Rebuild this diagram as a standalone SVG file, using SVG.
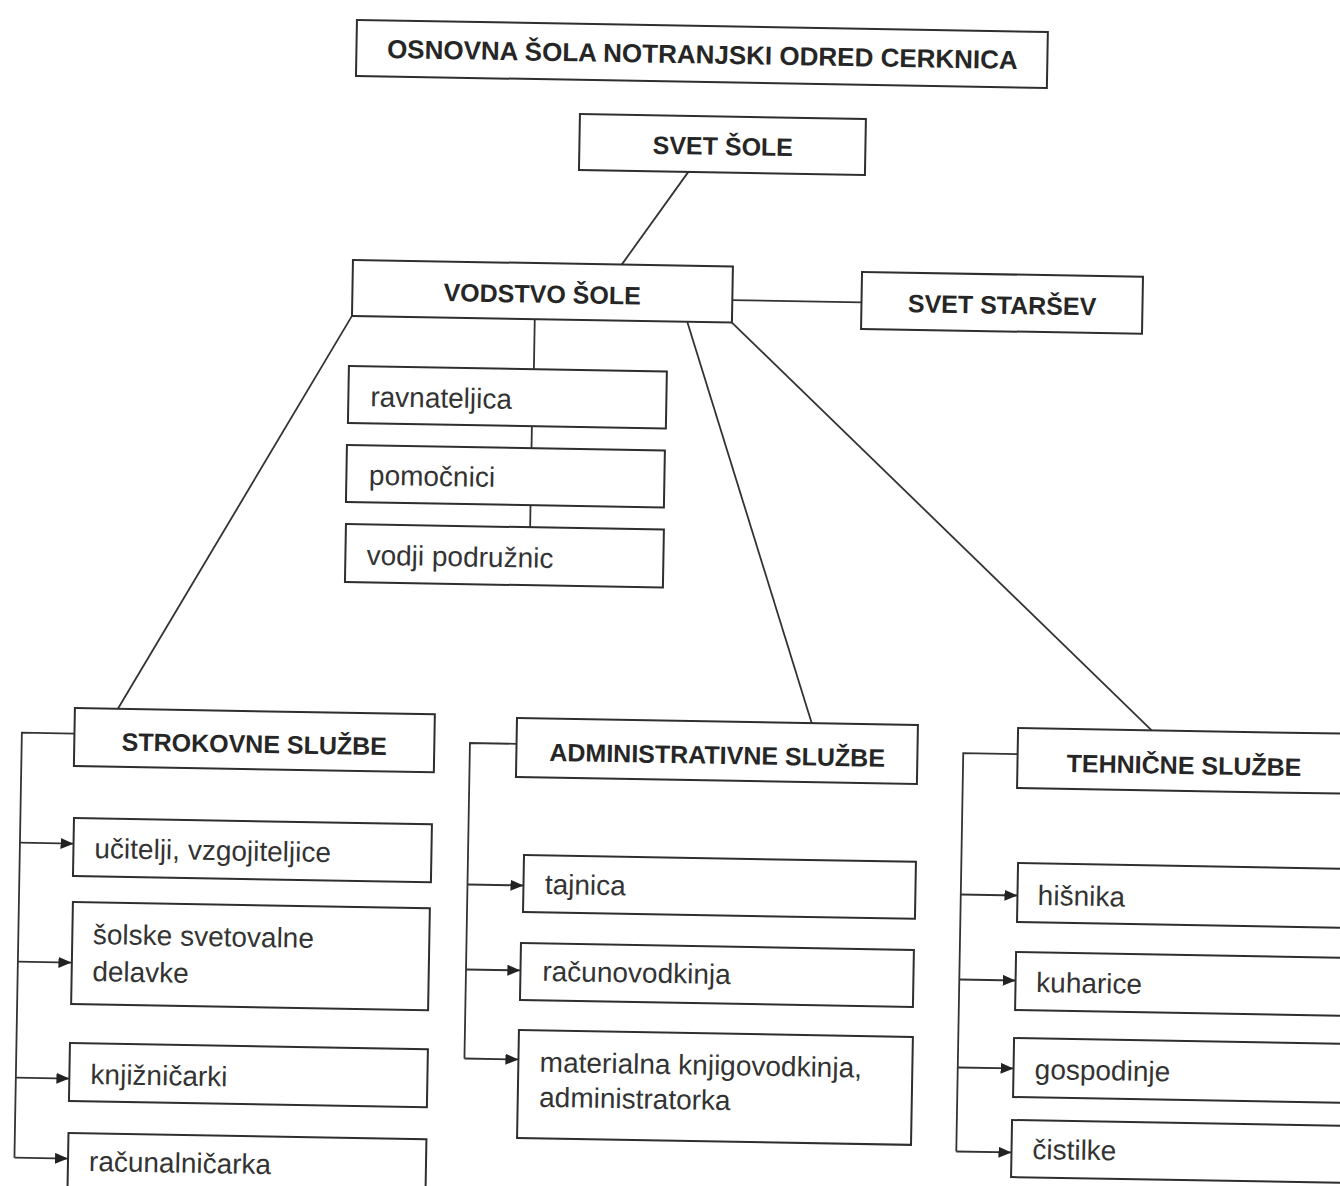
<svg xmlns="http://www.w3.org/2000/svg" width="1340" height="1186" viewBox="0 0 1340 1186">
<style>
.box{fill:#fff;stroke:#2e2e2e;stroke-width:2}
.ln{fill:none;stroke:#333;stroke-width:1.8}
.hd{font-family:"Liberation Sans",Arial,sans-serif;font-weight:bold;font-size:25px;fill:#262626;text-anchor:middle}
.ti{font-family:"Liberation Sans",Arial,sans-serif;font-weight:bold;font-size:26px;fill:#262626;text-anchor:middle}
.lb{font-family:"Liberation Sans",Arial,sans-serif;font-size:28px;fill:#333}
</style>
<defs>
<marker id="arr" markerUnits="userSpaceOnUse" markerWidth="13" markerHeight="11" refX="13" refY="5.5" orient="auto">
<path d="M0,0 L13,5.5 L0,11 z" fill="#222"/>
</marker>
</defs>
<rect width="1340" height="1186" fill="#fff"/>
<g transform="rotate(1 670 593)">
<g id="connectors">
<line class="ln" x1="681" y1="171.6" x2="616" y2="265.5"/>
<line class="ln" x1="727.2" y1="299" x2="856.4" y2="299"/>
<line class="ln" x1="530" y1="321.5" x2="530" y2="371.6"/>
<line class="ln" x1="529" y1="428.6" x2="529" y2="450.6"/>
<line class="ln" x1="529" y1="507.6" x2="529" y2="529.7"/>
<line class="ln" x1="347.2" y1="321.5" x2="120" y2="718.4"/>
<line class="ln" x1="682.5" y1="321.5" x2="814" y2="720.7"/>
<line class="ln" x1="727.2" y1="321.5" x2="1154" y2="721.9"/>
<path class="ln" d="M77,744 H24.4 V1169"/>
<path class="ln" d="M24.4,854 H78" marker-end="url(#arr)"/>
<path class="ln" d="M24.4,973 H78" marker-end="url(#arr)"/>
<path class="ln" d="M24.4,1089 H78" marker-end="url(#arr)"/>
<path class="ln" d="M24.4,1169 H78" marker-end="url(#arr)"/>
<path class="ln" d="M519,746.5 H472.6 V1062"/>
<path class="ln" d="M472.6,888 H528.6" marker-end="url(#arr)"/>
<path class="ln" d="M472.6,973 H527" marker-end="url(#arr)"/>
<path class="ln" d="M472.6,1062 H526.6" marker-end="url(#arr)"/>
<path class="ln" d="M1020.4,748 H966 V1146.4"/>
<path class="ln" d="M966,889.4 H1022.7" marker-end="url(#arr)"/>
<path class="ln" d="M966,974.4 H1022.3" marker-end="url(#arr)"/>
<path class="ln" d="M966,1062.4 H1021.8" marker-end="url(#arr)"/>
<path class="ln" d="M966,1146.4 H1021.2" marker-end="url(#arr)"/>
</g>
<g id="title"><rect class="box" x="347" y="25.5" width="691" height="56"/><text class="ti" x="693" y="63">OSNOVNA ŠOLA NOTRANJSKI ODRED CERKNICA</text></g>
<g id="svet-sole"><rect class="box" x="571.6" y="115.6" width="286" height="56"/><text class="hd" x="715" y="154">SVET ŠOLE</text></g>
<g id="vodstvo-sole"><rect class="box" x="347.2" y="265.5" width="380" height="56"/><text class="hd" x="537" y="305">VODSTVO ŠOLE</text></g>
<g id="svet-starsev"><rect class="box" x="856.4" y="268.6" width="281" height="57"/><text class="hd" x="997" y="308">SVET STARŠEV</text></g>
<g id="ravnateljica"><rect class="box" x="345" y="371.6" width="318" height="57"/><text class="lb" x="367" y="411.5">ravnateljica</text></g>
<g id="pomocnici"><rect class="box" x="344.4" y="450.6" width="318" height="57"/><text class="lb" x="367" y="490">pomočnici</text></g>
<g id="vodji-podruznic"><rect class="box" x="344.8" y="529.7" width="318" height="58"/><text class="lb" x="366" y="570">vodji podružnic</text></g>
<g id="strokovne-sluzbe"><rect class="box" x="77" y="718.4" width="360" height="58"/><text class="hd" x="257" y="760">STROKOVNE SLUŽBE</text></g>
<g id="ucitelji"><rect class="box" x="78" y="828.4" width="358" height="58"/><text class="lb" x="99" y="868">učitelji, vzgojiteljice</text></g>
<g id="svetovalne"><rect class="box" x="78.4" y="912.4" width="357" height="102"/><text class="lb" x="99" y="954">šolske svetovalne</text><text class="lb" x="99" y="991">delavke</text></g>
<g id="knjiznicarki"><rect class="box" x="77.9" y="1053.5" width="358" height="58"/><text class="lb" x="99" y="1094">knjižničarki</text></g>
<g id="racunalnicarka"><rect class="box" x="78" y="1143.5" width="358" height="58"/><text class="lb" x="99" y="1181">računalničarka</text></g>
<g id="administrativne-sluzbe"><rect class="box" x="519.2" y="720.7" width="401" height="59"/><text class="hd" x="720" y="763">ADMINISTRATIVNE SLUŽBE</text></g>
<g id="tajnica"><rect class="box" x="528.6" y="857.5" width="392" height="57"/><text class="lb" x="550" y="896">tajnica</text></g>
<g id="racunovodkinja"><rect class="box" x="527.1" y="945.6" width="393" height="57"/><text class="lb" x="549" y="983">računovodkinja</text></g>
<g id="materialna"><rect class="box" x="526.6" y="1032.6" width="394" height="108"/><text class="lb" x="548" y="1074">materialna knjigovodkinja,</text><text class="lb" x="548" y="1109">administratorka</text></g>
<g id="tehnicne-sluzbe"><rect class="box" x="1020.4" y="721.9" width="400" height="60"/><text class="hd" x="1187" y="765">TEHNIČNE SLUŽBE</text></g>
<g id="hisnika"><rect class="box" x="1022.7" y="856.9" width="400" height="59"/><text class="lb" x="1043" y="898.5">hišnika</text></g>
<g id="kuharice"><rect class="box" x="1022.3" y="946" width="400" height="58"/><text class="lb" x="1043" y="985.5">kuharice</text></g>
<g id="gospodinje"><rect class="box" x="1021.8" y="1032" width="400" height="59"/><text class="lb" x="1043" y="1072.5">gospodinje</text></g>
<g id="cistilke"><rect class="box" x="1021.2" y="1114" width="400" height="57"/><text class="lb" x="1042" y="1152.5">čistilke</text></g>
</g>
</svg>
